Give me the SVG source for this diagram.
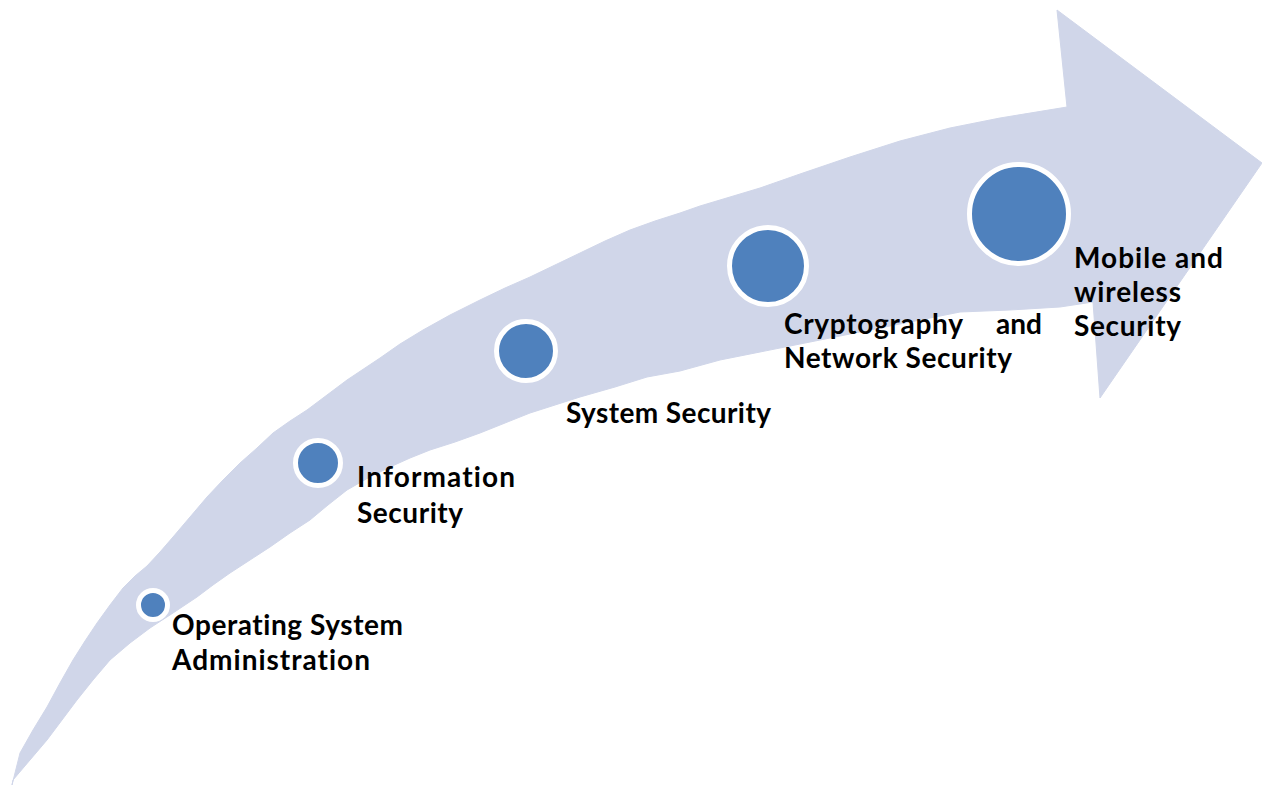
<svg xmlns="http://www.w3.org/2000/svg" width="1262" height="786" viewBox="0 0 1262 786">
<style>
.dot{fill:#4F81BD;stroke:#FFFFFF;stroke-width:5}
.lbl{font-family:Lato,"Liberation Sans",sans-serif;font-weight:bold;font-size:28px;fill:#000000;font-variant-ligatures:none}
</style>
<rect width="1262" height="786" fill="#FFFFFF"/>
<g id="arrow">
<path fill="#D0D6E9" stroke="#D0D6E9" stroke-width="1" stroke-linejoin="round" d="M12,785 L20,753 L33,730 L47,707 L60,683 L73,660 L85,641 L97,623 L110,605 L123,588 L135,576 L147,566 L160,552 L173,537 L190,517 L207,497 L223,480 L240,463 L257,448 L273,433 L290,421 L307,410 L327,395 L347,380 L365,368 L380,358 L400,344 L423,330 L450,315 L480,300 L505,288 L530,277 L555,265 L580,253 L605,241 L630,230 L655,221 L680,213 L700,206 L720,200 L760,188 L800,174 L850,157 L900,141 L950,128 L1000,118 L1067,107 L1057,10 L1262,163 L1100,398 L1093,302 L1060,307 L1010,310 L960,312 L900,324 L840,336 L780,348 L720,360 L680,371 L647,377 L615,387 L580,397 L555,405 L530,413 L505,423 L480,433 L455,442 L430,450 L410,458 L390,467 L368,478 L347,490 L328,505 L310,520 L290,533 L270,547 L250,560 L230,573 L213,585 L197,597 L173,613 L150,628 L130,643 L110,660 L93,680 L77,700 L62,720 L47,740 L30,760 L13,780 Z"/>
</g>
<g id="node-os">
<circle class="dot" cx="153" cy="605" r="14.5"/>
<text class="lbl" x="172" y="635" textLength="231" lengthAdjust="spacing">Operating System</text>
<text class="lbl" x="172" y="670" textLength="198" lengthAdjust="spacing">Administration</text>
</g>
<g id="node-infosec">
<circle class="dot" cx="318" cy="463" r="22.5"/>
<text class="lbl" x="357" y="487" textLength="158" lengthAdjust="spacing">Information</text>
<text class="lbl" x="357" y="523" textLength="106" lengthAdjust="spacing">Security</text>
</g>
<g id="node-syssec">
<circle class="dot" cx="526" cy="351" r="29.5"/>
<text class="lbl" x="566" y="423" textLength="205" lengthAdjust="spacing">System Security</text>
</g>
<g id="node-crypto">
<circle class="dot" cx="768" cy="266" r="38.5"/>
<text class="lbl" x="784" y="334" textLength="179" lengthAdjust="spacing">Cryptography</text>
<text class="lbl" x="1042" y="334" text-anchor="end">and</text>
<text class="lbl" x="784" y="368" textLength="228" lengthAdjust="spacing">Network Security</text>
</g>
<g id="node-mobile">
<circle class="dot" cx="1019" cy="214" r="49.5"/>
<text class="lbl" x="1074" y="268" textLength="149" lengthAdjust="spacing">Mobile and</text>
<text class="lbl" x="1074" y="302" textLength="107" lengthAdjust="spacing">wireless</text>
<text class="lbl" x="1074" y="336" textLength="107" lengthAdjust="spacing">Security</text>
</g>
</svg>
